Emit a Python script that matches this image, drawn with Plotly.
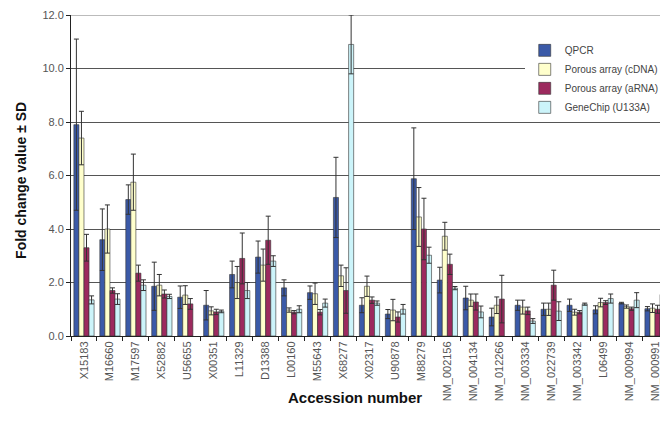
import plotly.graph_objects as go

categories = ["X15183", "M16660", "M17597", "X52882", "U56655", "X00351", "L11329",
              "D13388", "L00160", "M55643", "X68277", "X02317", "U90878", "M88279",
              "NM_002156", "NM_004134", "NM_012266", "NM_003334", "NM_022739",
              "NM_003342", "L06499", "NM_000994", "NM_000991"]

qpcr = [7.9, 3.6, 5.1, 1.86, 1.45, 1.15, 2.3, 2.95, 1.8, 1.62, 5.18, 1.15, 0.82, 5.88,
        2.09, 1.42, 0.71, 1.15, 1.0, 1.15, 0.98, 1.23, 1.02]
qpcr_sd = [3.2, 1.15, 0.55, 0.9, 0.42, 0.55, 0.5, 0.6, 0.3, 0.25, 1.5, 0.28, 0.17, 1.9,
           0.48, 0.44, 0.33, 0.19, 0.23, 0.23, 0.15, 0.03, 0.08]

cdna = [7.4, 4.0, 5.75, 1.9, 1.53, 0.94, 2.0, 2.65, 0.97, 1.58, 2.25, 1.86, 0.97, 4.45,
        3.73, 1.34, 1.15, 1.08, 1.0, 0.89, 1.25, 1.1, 1.04]
cdna_sd = [1.0, 0.9, 1.05, 0.4, 0.35, 0.15, 0.6, 0.6, 0.08, 0.4, 0.4, 0.38, 0.4, 1.1,
           0.52, 0.23, 0.31, 0.26, 0.23, 0.11, 0.16, 0.06, 0.16]

arna = [3.3, 1.7, 2.35, 1.57, 1.2, 0.9, 2.9, 3.58, 0.89, 0.89, 1.7, 1.34, 0.71, 4.0,
        2.68, 1.27, 1.38, 0.94, 1.9, 0.89, 1.25, 1.02, 1.0]
arna_sd = [0.5, 0.1, 0.3, 0.15, 0.2, 0.1, 0.95, 0.9, 0.06, 0.1, 0.85, 0.12, 0.19, 1.15,
           0.38, 0.3, 0.89, 0.14, 0.56, 0.06, 0.07, 0.06, 0.15]

genechip = [1.35, 1.38, 1.9, 1.48, None, 0.92, 1.7, 2.8, 1.0, 1.23, 10.9, 1.23, 1.0, 3.02,
            1.79, 0.9, None, 0.56, 0.93, 1.19, 1.4, 1.34, 1.55]
genechip_sd = [0.15, 0.2, 0.2, 0.08, 0, 0.05, 0.3, 0.2, 0.13, 0.15, 1.1, 0.08, 0.18, 0.3,
               0.06, 0.22, 0, 0.09, 0.35, 0.04, 0.17, 0.28, 0.17]

series = [
    ("QPCR", qpcr, qpcr_sd, "#3b5aa8"),
    ("Porous array (cDNA)", cdna, cdna_sd, "#ffffcc"),
    ("Porous array (aRNA)", arna, arna_sd, "#9c2a5e"),
    ("GeneChip (U133A)", genechip, genechip_sd, "#ccf4fa"),
]

FONT = "Arial, Liberation Sans, sans-serif"

fig = go.Figure()
for name, vals, sds, color in series:
    fig.add_trace(go.Bar(
        name=name, x=categories, y=vals,
        marker=dict(color=color, line=dict(color="#333333", width=0.6)),
        error_y=dict(type="data", array=sds, visible=True, color="#333333",
                     thickness=1, width=2.5),
    ))

# page body has an 8px default margin, so the figure is sized to fit 668x433
fig.update_layout(
    width=660, height=425,
    margin=dict(l=63, r=0, t=7, b=97, autoexpand=False),
    paper_bgcolor="white", plot_bgcolor="white",
    barmode="group", bargap=0.22, bargroupgap=0.0,
    font=dict(family=FONT, size=11, color="#555555"),
    showlegend=True,
    legend=dict(x=0.76, y=0.935, xanchor="left", yanchor="top",
                bgcolor="white", borderwidth=0,
                font=dict(family=FONT, size=10, color="#444444"),
                itemwidth=30, tracegroupgap=0),
    xaxis=dict(type="category", tickangle=-90, showline=True, linecolor="#222222",
               linewidth=1, ticks="outside", ticklen=4, tickcolor="#222222",
               tickson="boundaries", showgrid=False, automargin=False,
               tickfont=dict(family=FONT, size=11, color="#555555")),
    yaxis=dict(range=[0, 12], dtick=2, tickformat=".1f", showline=True,
               linecolor="#222222", linewidth=1, ticks="outside", ticklen=4,
               tickcolor="#222222", showgrid=True, gridcolor="#555555", gridwidth=1,
               zeroline=False, automargin=False, ticklabeloverflow="allow",
               tickfont=dict(family=FONT, size=11, color="#555555")),
    shapes=[dict(type="line", xref="paper", yref="y", x0=0, x1=1, y0=12, y1=12,
                 line=dict(color="#bbbbbb", width=2), layer="below")],
    annotations=[
        dict(text="<b>Accession number</b>", xref="paper", yref="paper",
             x=0.476, y=-0.193, xanchor="center", yanchor="middle", showarrow=False,
             font=dict(family=FONT, size=15, color="#111111")),
        dict(text="<b>Fold change value ± SD</b>", xref="paper", yref="paper",
             x=-0.085, y=0.484, xanchor="center", yanchor="middle", showarrow=False,
             textangle=-90, font=dict(family=FONT, size=14, color="#111111")),
    ],
)

fig.write_html("out.html")
